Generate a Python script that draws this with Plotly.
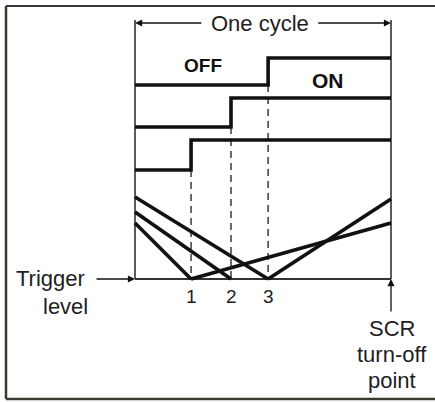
import plotly.graph_objects as go

# ---- data (time as fraction of one cycle; level in arbitrary units, trigger level = 0) ----
cycle_t = [0.0, 1.0]
trigger_t = [0.219, 0.375, 0.52]          # instants 1, 2, 3
trigger_labels = ["1", "2", "3"]
step_low = [10.9, 15.2, 19.4]             # OFF level of each waveform (bottom, middle, top)
step_high = [13.9, 18.1, 22.1]            # ON level of each waveform
ramp_start = [5.6, 6.7, 8.2]              # ramp value at start of cycle
ramp_end = [5.6, None, 8.0]               # rising ramp value at end of cycle
cycle_top = 25.9
cycle_arrow_y = 25.6
scr_arrow_tail = -3.4
trigger_arrow_tail = -0.156

INK = "#111111"
TXT = "#1e1e1e"
FONT = "Liberation Sans, Arial, sans-serif"

fig = go.Figure()

def line(x, y, width, dash="solid", color=INK):
    fig.add_trace(go.Scatter(x=x, y=y, mode="lines", hoverinfo="skip",
                             line=dict(color=color, width=width, dash=dash)))

# cycle boundaries
line([cycle_t[0], cycle_t[0]], [0, cycle_top], 1.6, color="#333")
line([cycle_t[1], cycle_t[1]], [0, cycle_top], 1.6, color="#333")
# trigger level
line(cycle_t, [0, 0], 1.8, color="#333")

# dashed markers
for t, lo in zip(trigger_t, step_low):
    line([t, t], [lo, 0], 1.5, dash="7px,5px", color="#3a3a3a")

# step waveforms
for t, lo, hi in zip(trigger_t, step_low, step_high):
    fig.add_trace(go.Scatter(x=[cycle_t[0], t, cycle_t[1]], y=[lo, hi, hi], mode="lines",
                             line=dict(color=INK, width=3.6, shape="hv"), hoverinfo="skip"))

# ramps
for t, s, e in zip(trigger_t, ramp_start, ramp_end):
    line([cycle_t[0], t], [s, 0], 3.6)
    if e is not None:
        line([t, cycle_t[1]], [0, e], 3.6)

ann = []
# One cycle arrows
ann.append(dict(x=cycle_t[0], y=cycle_arrow_y, ax=0.265, ay=cycle_arrow_y, xref="x", yref="y",
                axref="x", ayref="y", text="", showarrow=True, arrowhead=2, arrowsize=1.1,
                arrowwidth=1.3, arrowcolor=INK))
ann.append(dict(x=cycle_t[1], y=cycle_arrow_y, ax=0.71, ay=cycle_arrow_y, xref="x", yref="y",
                axref="x", ayref="y", text="", showarrow=True, arrowhead=2, arrowsize=1.1,
                arrowwidth=1.3, arrowcolor=INK))
ann.append(dict(x=0.49, y=cycle_arrow_y, text="One cycle", showarrow=False,
                font=dict(size=22, color=TXT, family=FONT)))
# OFF / ON
ann.append(dict(x=0.266, y=21.4, text="<b>OFF</b>", showarrow=False,
                font=dict(size=19, color=INK, family=FONT)))
ann.append(dict(x=0.754, y=19.9, text="<b>ON</b>", showarrow=False,
                font=dict(size=21, color=INK, family=FONT)))
# trigger labels
for t, lab in zip(trigger_t, trigger_labels):
    ann.append(dict(x=t, y=-1.75, text=lab, showarrow=False,
                    font=dict(size=19, color=TXT, family=FONT)))
# Trigger level arrow and text
ann.append(dict(x=cycle_t[0], y=0, ax=trigger_arrow_tail, ay=0, xref="x", yref="y",
                axref="x", ayref="y", text="", showarrow=True, arrowhead=2, arrowsize=1.1,
                arrowwidth=1.3, arrowcolor=INK))
ann.append(dict(x=-0.332, y=0.05, text="Trigger", showarrow=False,
                font=dict(size=22, color=TXT, family=FONT)))
ann.append(dict(x=-0.273, y=-2.75, text="level", showarrow=False,
                font=dict(size=22, color=TXT, family=FONT)))
# SCR turn-off arrow and text
ann.append(dict(x=cycle_t[1], y=0, ax=cycle_t[1], ay=scr_arrow_tail, xref="x", yref="y",
                axref="x", ayref="y", text="", showarrow=True, arrowhead=2, arrowsize=1.1,
                arrowwidth=1.3, arrowcolor=INK))
ann.append(dict(x=1.003, y=-4.9, text="SCR", showarrow=False,
                font=dict(size=22, color=TXT, family=FONT)))
ann.append(dict(x=1.003, y=-7.5, text="turn-off", showarrow=False,
                font=dict(size=22, color=TXT, family=FONT)))
ann.append(dict(x=1.003, y=-10.1, text="point", showarrow=False,
                font=dict(size=22, color=TXT, family=FONT)))

fig.update_layout(
    width=435, height=402,
    margin=dict(l=0, r=0, t=0, b=0),
    paper_bgcolor="white", plot_bgcolor="white",
    showlegend=False,
    xaxis=dict(range=[-135 / 256, 300 / 256], visible=False, fixedrange=True),
    yaxis=dict(range=[-12.3, 27.9], visible=False, fixedrange=True),
    annotations=ann,
    shapes=[
        dict(type="line", xref="paper", yref="paper", x0=6 / 435, x1=6 / 435,
             y0=1 - 6 / 402, y1=1 - 399 / 402, line=dict(color="#3a3a30", width=2.5)),
        dict(type="line", xref="paper", yref="paper", x0=6 / 435, x1=1,
             y0=1 - 6 / 402, y1=1 - 6 / 402, line=dict(color="#3a3a3a", width=2)),
        dict(type="line", xref="paper", yref="paper", x0=6 / 435, x1=1,
             y0=1 - 399 / 402, y1=1 - 399 / 402, line=dict(color="#3a3a30", width=2.5)),
    ],
)

fig.write_html("out.html", config={"displayModeBar": False},
               post_script="document.body.style.margin='0';document.body.style.padding='0';"
                           "document.body.style.overflow='hidden';")
